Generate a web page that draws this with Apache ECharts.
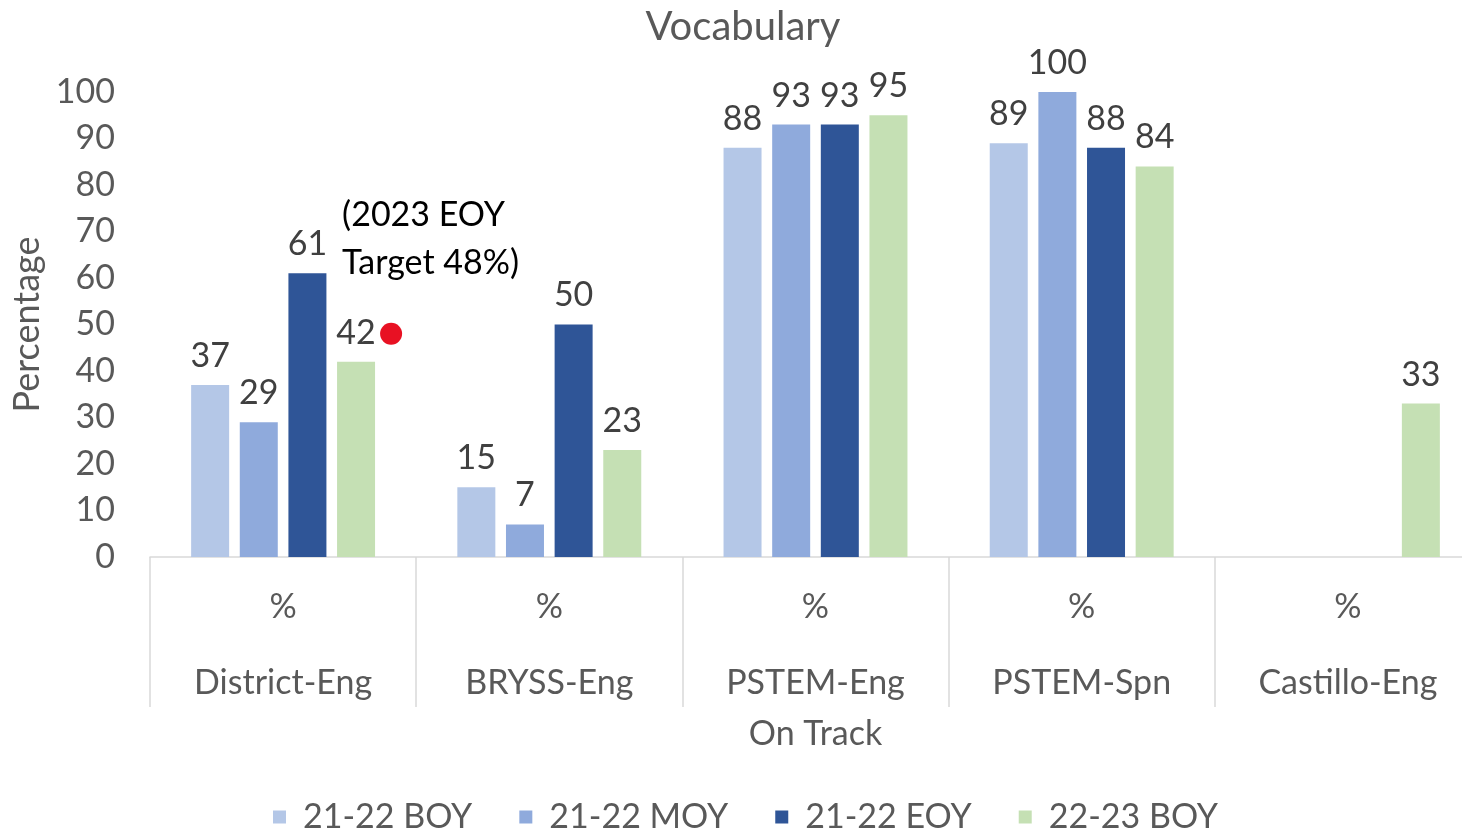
<!DOCTYPE html>
<html>
<head>
<meta charset="utf-8">
<script src="https://cdn.jsdelivr.net/npm/echarts@6/dist/echarts.min.js"></script>
<style>html,body{margin:0;padding:0;background:#fff}#c{width:1462px;height:832px}</style>
</head>
<body>
<div id="c"></div>
<script>
const categories = ['District-Eng', 'BRYSS-Eng', 'PSTEM-Eng', 'PSTEM-Spn', 'Castillo-Eng'];
const subLabel = '%';
const seriesNames = ['21-22 BOY', '21-22 MOY', '21-22 EOY', '22-23 BOY'];
const boy2122 = [37, 15, 88, 89, null];
const moy2122 = [29, 7, 93, 100, null];
const eoy2122 = [61, 50, 93, 88, null];
const boy2223 = [42, 23, 95, 84, 33];
const targetValues = [48, null, null, null, null];
const targetText = '(2023 EOY\nTarget 48%)';
const yTicks = { min: 0, max: 100, interval: 10 };

const colors = ['#B4C7E7', '#8FAADC', '#2F5597', '#C5E0B4'];
const FONT = 'Lato';
const seriesData = [boy2122, moy2122, eoy2122, boy2223];

const chart = echarts.init(document.getElementById('c'));
const barSeries = seriesNames.map((n, i) => ({
  name: n,
  type: 'bar',
  data: seriesData[i],
  barWidth: 38,
  barGap: '28%',
  itemStyle: { color: colors[i] },
  label: {
    show: true, position: 'top', distance: 12,
    color: '#404040', fontSize: 34, fontFamily: FONT
  }
}));

chart.setOption({
  animation: false,
  textStyle: { fontFamily: FONT },
  title: {
    text: 'Vocabulary', left: 738, top: 2, textAlign: 'center',
    textStyle: { color: '#595959', fontSize: 40, fontWeight: 'normal', fontFamily: FONT }
  },
  legend: {
    data: seriesNames,
    left: 268, top: 795,
    icon: 'rect', itemWidth: 13, itemHeight: 13, itemGap: 47,
    textStyle: { color: '#595959', fontSize: 34, fontFamily: FONT, padding: [0, 0, 0, 12] }
  },
  grid: { left: 150, right: -19, top: 92, bottom: 275, containLabel: false, outerBoundsMode: 'none' },
  xAxis: {
    type: 'category',
    data: categories,
    axisLine: { lineStyle: { color: '#D9D9D9', width: 1.5 } },
    axisTick: { show: true, length: 150, interval: 0, lineStyle: { color: '#D9D9D9', width: 1.5 } },
    axisLabel: {
      interval: 0, margin: 8,
      formatter: v => '{p|' + subLabel + '}\n{n|' + v + '}',
      rich: {
        p: { fontSize: 34, lineHeight: 84, color: '#595959', fontFamily: FONT },
        n: { fontSize: 34, lineHeight: 68, color: '#595959', fontFamily: FONT }
      }
    },
    name: 'On Track', nameLocation: 'middle', nameGap: 160,
    nameTextStyle: { color: '#595959', fontSize: 34, fontFamily: FONT }
  },
  yAxis: {
    type: 'value', min: yTicks.min, max: yTicks.max, interval: yTicks.interval,
    axisLine: { show: false }, axisTick: { show: false }, splitLine: { show: false },
    axisLabel: { color: '#595959', fontSize: 34, fontFamily: FONT, margin: 35 },
    name: 'Percentage', nameLocation: 'middle', nameGap: 105,
    nameTextStyle: { color: '#595959', fontSize: 36, fontFamily: FONT }
  },
  series: barSeries.concat([{
    name: 'Target',
    type: 'scatter',
    data: targetValues,
    symbol: 'circle', symbolSize: 22, symbolOffset: [108, 0],
    itemStyle: { color: '#E81123', opacity: 1 },
    label: {
      show: true, formatter: targetText,
      position: [-38, -132], align: 'left', verticalAlign: 'top',
      color: '#000', fontSize: 34, lineHeight: 48, fontFamily: FONT
    },
    z: 5
  }])
});
</script>
</body>
</html>
